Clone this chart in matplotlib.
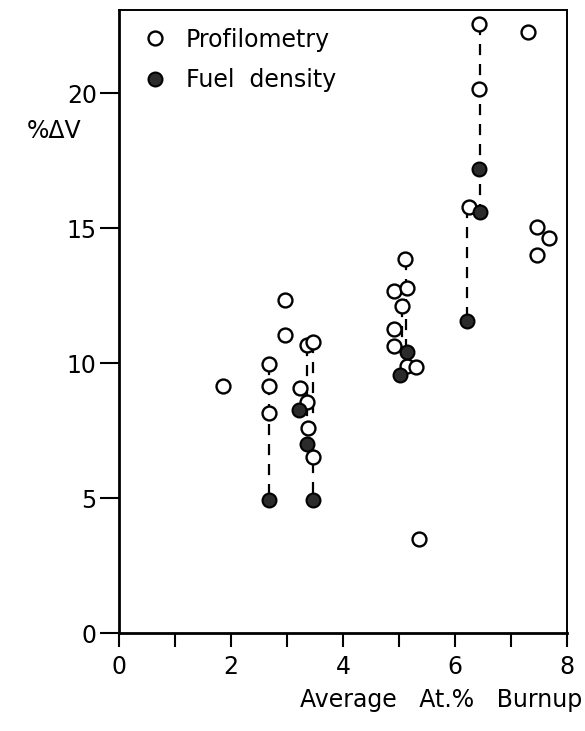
import matplotlib
matplotlib.use('Agg')
import matplotlib.pyplot as plt

# ── swelling data: % volume change vs average burnup ─────────────────────────
profil_x = [1.85, 2.68, 2.68, 2.68, 2.96, 2.96, 3.23, 3.36, 3.46, 3.36, 3.38, 3.46,
            4.91, 4.91, 4.91, 5.11, 5.15, 5.05, 5.15, 5.30, 5.35,
            6.24, 6.43, 6.43, 7.31, 7.47, 7.67, 7.47]
profil_y = [9.15, 9.96, 9.15, 8.15, 12.33, 11.04, 9.07, 10.67, 10.79, 8.57, 7.58, 6.53,
            12.68, 11.28, 10.63, 13.84, 12.77, 12.11, 9.89, 9.86, 3.5,
            15.79, 22.57, 20.14, 22.27, 15.05, 14.64, 14.0]

density_x = [2.68, 3.22, 3.36, 3.46, 5.14, 5.02, 6.22, 6.43, 6.45]
density_y = [4.93, 8.26, 7.0, 4.93, 10.4, 9.56, 11.55, 17.2, 15.6]

# same-pin pairs joined by dashed lines: x, upper, lower
link_x = [2.68, 3.36, 3.46, 5.12, 5.05, 6.22, 6.44]
link_top = [9.96, 10.67, 10.79, 13.84, 12.11, 15.79, 22.57]
link_bot = [4.93, 7.0, 4.93, 10.4, 9.56, 11.55, 15.6]

x_ticks = list(range(0, 9))
x_labels = ['0', '', '2', '', '4', '', '6', '', '8']
y_ticks = [0, 5, 10, 15, 20]

FONT = ['Liberation Sans Narrow', 'DejaVu Sans']
plt.rcParams['font.family'] = FONT

fig = plt.figure(figsize=(5.85, 7.31), dpi=100)
ax = fig.add_axes([0.2034, 0.134, 0.766, 0.852])

for x, top, bot in zip(link_x, link_top, link_bot):
    ax.plot([x, x], [top, bot], color='black', lw=1.6, ls=(0, (5, 4)), zorder=1)

ax.plot(profil_x, profil_y, ls='none', marker='o', ms=10, mfc='white',
        mec='black', mew=1.7, label='Profilometry', zorder=3)
ax.plot(density_x, density_y, ls='none', marker='o', ms=10, mfc='#2b2b2b',
        mec='black', mew=1.5, label='Fuel  density', zorder=4)

ax.set_xlim(0, 8)
ax.set_ylim(0, 23.07)
ax.set_xticks(x_ticks)
ax.set_xticklabels(x_labels, fontsize=17)
ax.set_yticks(y_ticks)
ax.set_yticklabels([str(v) for v in y_ticks], fontsize=17)
ax.tick_params(axis='x', direction='out', length=10, width=1.5, pad=6)
ax.tick_params(axis='y', direction='out', length=14, width=1.5, pad=2)

for side in ('left', 'bottom'):
    ax.spines[side].set_linewidth(2.0)
for side in ('top', 'right'):
    ax.spines[side].set_linewidth(1.4)

ax.text(-0.083, 0.806, '%\u0394V', transform=ax.transAxes, fontsize=17,
        ha='right', va='center')
fig.text(0.995, 0.042, 'Average   At.%   Burnup', fontsize=17, ha='right', va='center')

ax.legend(loc='upper left', bbox_to_anchor=(-0.003, 0.995), frameon=False,
          fontsize=17, handletextpad=0.3, labelspacing=0.7, borderaxespad=0.2)

plt.savefig('out.png', dpi=100)
plt.close()
